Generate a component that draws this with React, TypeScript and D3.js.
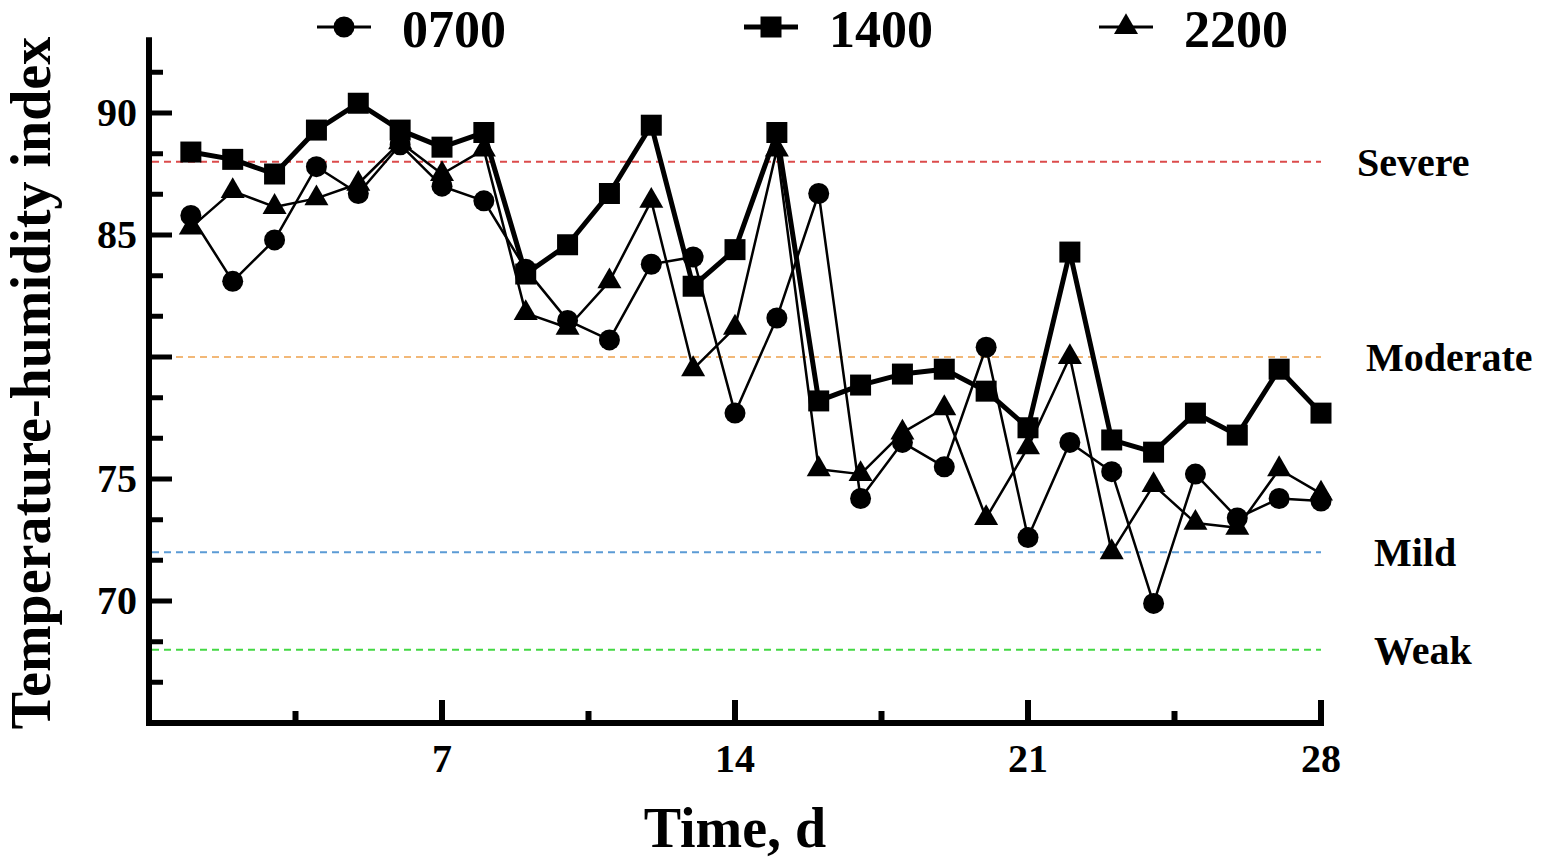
import React from "react";
import * as d3 from "d3";

const days = d3.range(1, 29);

const thi0700 = [
  85.8, 83.1, 84.8, 87.8, 86.7, 88.7, 87.0, 86.4, 83.6, 81.5, 80.7, 83.8, 84.1, 77.7,
  81.6, 86.7, 74.2, 76.5, 75.5, 80.4, 72.6, 76.5, 75.3, 69.9, 75.2, 73.4, 74.2, 74.1,
];
const thi1400 = [
  88.4, 88.1, 87.5, 89.3, 90.4, 89.3, 88.6, 89.2, 83.4, 84.6, 86.7, 89.5, 82.9, 84.4,
  89.2, 78.2, 78.85, 79.3, 79.5, 78.6, 77.1, 84.3, 76.6, 76.1, 77.7, 76.8, 79.5, 77.7,
];
const thi2200 = [
  85.3, 86.8, 86.15, 86.5, 87.1, 88.8, 87.5, 88.5, 81.8, 81.2, 83.1, 86.4, 79.5, 81.2,
  88.5, 75.4, 75.2, 76.9, 77.9, 73.4, 76.3, 80.0, 72.0, 74.75, 73.2, 73.0, 75.4, 74.4,
];

const xTicks = [7, 14, 21, 28];
const xMinorTicks = [3.5, 10.5, 17.5, 24.5];
const yMajorTicks = [70, 75, 80, 85, 90];
const yLabelled = [70, 75, 85, 90];
const yMinorTicks = [66.67, 68.33, 71.67, 73.33, 76.67, 78.33, 81.67, 83.33, 86.67, 88.33, 91.67];

const levels = [
  { name: "Severe", value: 88, color: "#dc4b4b", dx: 36 },
  { name: "Moderate", value: 80, color: "#f2b878", dx: 45 },
  { name: "Mild", value: 72, color: "#5b9bd5", dx: 53 },
  { name: "Weak", value: 68, color: "#44d844", dx: 53 },
];

const series = [
  { name: "0700", values: thi0700, shape: "circle", width: 2.5 },
  { name: "1400", values: thi1400, shape: "square", width: 5 },
  { name: "2200", values: thi2200, shape: "triangle", width: 2.5 },
];

const font = "'Liberation Serif', 'Times New Roman', serif";

const W = 1547;
const H = 863;

const x = d3.scaleLinear().domain([0, 28]).range([149, 1321]);
const y = d3.scaleLinear().domain([65, 90]).range([723, 113]);
const yTop = 93.1;

const symbolFor = (shape: string) => {
  if (shape === "circle") return d3.symbol(d3.symbolCircle, Math.PI * 10.5 * 10.5)();
  if (shape === "square") return d3.symbol(d3.symbolSquare, 21 * 21)();
  return d3.symbol(d3.symbolTriangle, 250)();
};

const Marker = ({ shape, cx, cy }: { shape: string; cx: number; cy: number }) => (
  <path d={symbolFor(shape) || ""} transform={`translate(${cx},${cy})`} fill="#000" />
);

export default function App() {
  const line = d3
    .line<number>()
    .x((_, i) => x(days[i]))
    .y((d) => y(d));

  const axisW = 6;
  const legendX = [344, 771, 1126];

  return (
    <svg
      width={W}
      height={H}
      style={{ position: "absolute", left: 0, top: 0, background: "#fff" }}
      fontFamily={font}
      fontWeight="bold"
    >
      {/* threshold lines */}
      {levels.map((l) => (
        <g key={l.name}>
          <line
            x1={x(0) + 3}
            x2={x(28)}
            y1={y(l.value)}
            y2={y(l.value)}
            stroke={l.color}
            strokeWidth={2}
            strokeDasharray="7 5"
          />
          <text x={x(28) + l.dx} y={y(l.value) + 14} fontSize={40} fill="#000">
            {l.name}
          </text>
        </g>
      ))}

      {/* series */}
      {series.map((s) => (
        <g key={s.name}>
          <path
            d={line(s.values) || ""}
            fill="none"
            stroke="#000"
            strokeWidth={s.width}
            strokeLinejoin="round"
          />
          {s.values.map((v, i) => (
            <Marker key={i} shape={s.shape} cx={x(days[i])} cy={y(v)} />
          ))}
        </g>
      ))}

      {/* y axis */}
      <line x1={x(0)} x2={x(0)} y1={y(yTop)} y2={y(65) + axisW / 2} stroke="#000" strokeWidth={axisW} />
      {yMajorTicks.map((t) => (
        <line key={t} x1={x(0)} x2={x(0) + 23} y1={y(t)} y2={y(t)} stroke="#000" strokeWidth={5} />
      ))}
      {yMinorTicks.map((t) => (
        <line key={t} x1={x(0)} x2={x(0) + 14} y1={y(t)} y2={y(t)} stroke="#000" strokeWidth={5} />
      ))}
      {yLabelled.map((t) => (
        <text key={t} x={137} y={y(t) + 13} fontSize={40} textAnchor="end">
          {t}
        </text>
      ))}

      {/* x axis */}
      <line x1={x(0) - axisW / 2} x2={x(28) + 3} y1={y(65)} y2={y(65)} stroke="#000" strokeWidth={axisW} />
      {xTicks.map((t) => (
        <line key={t} x1={x(t)} x2={x(t)} y1={y(65)} y2={y(65) - 23} stroke="#000" strokeWidth={6} />
      ))}
      {xMinorTicks.map((t) => (
        <line key={t} x1={x(t)} x2={x(t)} y1={y(65)} y2={y(65) - 12} stroke="#000" strokeWidth={6} />
      ))}
      {xTicks.map((t) => (
        <text key={t} x={x(t)} y={772} fontSize={40} textAnchor="middle">
          {t}
        </text>
      ))}

      {/* axis titles */}
      <text x={735} y={847} fontSize={56} textAnchor="middle">
        Time, d
      </text>
      <text transform="translate(50,383) rotate(-90)" fontSize={56} textAnchor="middle">
        Temperature-humidity index
      </text>

      {/* legend */}
      {series.map((s, i) => (
        <g key={s.name}>
          <line
            x1={legendX[i] - 27}
            x2={legendX[i] + 27}
            y1={27}
            y2={27}
            stroke="#000"
            strokeWidth={s.width === 5 ? 5 : 3}
          />
          <Marker shape={s.shape} cx={legendX[i]} cy={27} />
          <text x={legendX[i] + 58} y={47} fontSize={52}>
            {s.name}
          </text>
        </g>
      ))}
    </svg>
  );
}
